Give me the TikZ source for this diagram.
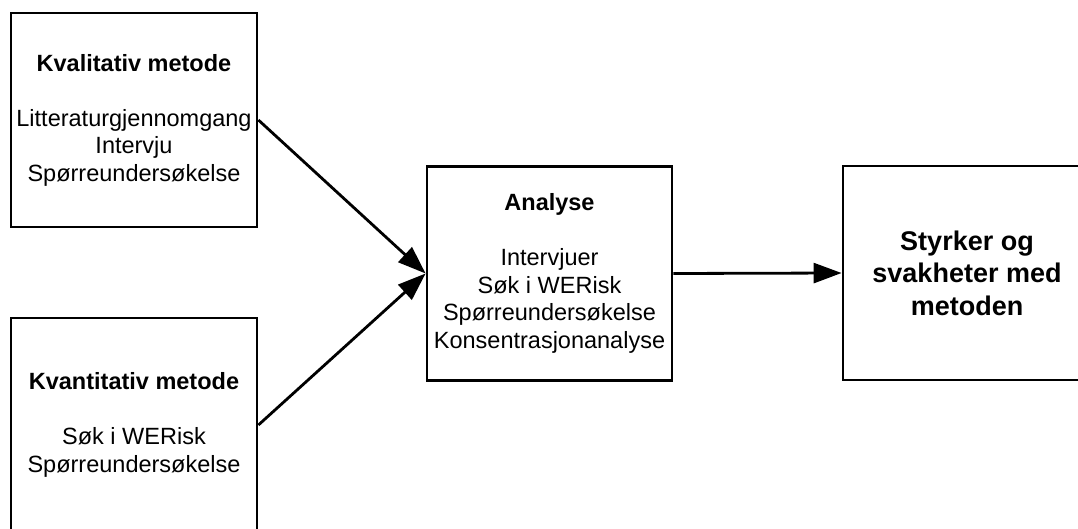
\documentclass[tikz,border=0pt]{standalone}
\usepackage{fontspec}
\setmainfont{Liberation Sans}
\usetikzlibrary{arrows.meta}
\begin{document}
\begin{tikzpicture}[x=1pt,y=-1pt,
  box/.style={draw=black, line width=2.8pt, minimum width=246pt, minimum height=214pt,
    align=center, inner sep=0pt, font=\fontsize{23.5}{27.5}\selectfont},
  bigbox/.style={box, minimum width=248pt, font=\bfseries\fontsize{27}{32.5}\selectfont},
  conn/.style={line width=2.8pt, -{Triangle[length=28pt,width=20pt]}}]
\useasboundingbox (0,0) rectangle (1078,529);
\clip (0,0) rectangle (1078,529);
\node[box] (kval) at (134,120) {\textbf{Kvalitativ metode}\\[27.5pt]Litteraturgjennomgang\\Intervju\\Spørreundersøkelse};
\node[box] (kvan) at (134,425) {\textbf{Kvantitativ metode}\\[27.5pt]Søk i WERisk\\Spørreundersøkelse};
\node[box, minimum width=245pt] (ana) at (549.5,273.5) {\textbf{Analyse}\\[27.5pt]Intervjuer\\Søk i WERisk\\Spørreundersøkelse\\Konsentrasjonanalyse};
\node[bigbox] (res) at (967,273) {Styrker og\\svakheter med\\metoden};
\draw[conn] (kval.east) -- (ana.west);
\draw[conn] (kvan.east) -- (ana.west);
\draw[conn] (ana.east) -- (res.west);
\end{tikzpicture}
\end{document}
